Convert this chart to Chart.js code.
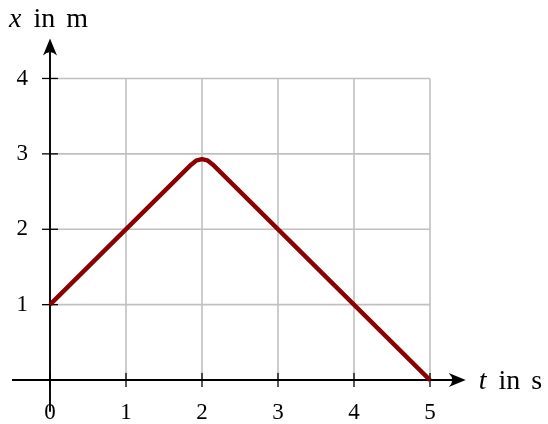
<!DOCTYPE html>
<html lang="en">
<head>
    <meta charset="UTF-8">
    <title>Position over time</title>
    <script src="https://cdn.jsdelivr.net/npm/chart.js"></script>
<style>
    body {
        margin: 0;
        background-color: #ffffff;
    }
    #wrap {
        width: 548px;
        height: 424px;
    }
</style>
</head>
<body>
    <div id="wrap"><canvas id="posChart"></canvas></div>

    <script>
        // data (t in s, x in m)
        const tValues = [0, 1.86, 1.93, 2, 2.07, 2.14, 5];
        const xValues = [1, 2.86, 2.915, 2.93, 2.915, 2.86, 0];
        const tTicks = [0, 1, 2, 3, 4, 5];
        const xTicks = [1, 2, 3, 4];
        const tTitle = ['t', 'in', 's'];
        const xTitle = ['x', 'in', 'm'];

        const FONT = '"Liberation Serif", serif';

        // writes "var in unit" with the variable in italics, words spread like LaTeX
        function drawTitle(ctx, words, x, y, gaps) {
            ctx.font = 'italic 28px ' + FONT;
            ctx.fillText(words[0], x, y);
            x += ctx.measureText(words[0]).width + gaps[0];
            ctx.font = '28px ' + FONT;
            ctx.fillText(words[1], x, y);
            x += ctx.measureText(words[1]).width + gaps[1];
            ctx.fillText(words[2], x, y);
        }

        // grid, axes with arrows, ticks and labels, drawn through the scales
        const axesPlugin = {
            id: 'axesPlugin',
            beforeDatasetsDraw(chart) {
                const ctx = chart.ctx;
                const sx = chart.scales.x, sy = chart.scales.y;
                const x0 = sx.getPixelForValue(0), x5 = sx.getPixelForValue(5);
                const y0 = sy.getPixelForValue(0), y4 = sy.getPixelForValue(4);
                ctx.save();
                ctx.strokeStyle = '#c0c0c0';
                ctx.lineWidth = 1.6;
                tTicks.forEach(v => {
                    if (v === 0) return;
                    const px = sx.getPixelForValue(v);
                    ctx.beginPath(); ctx.moveTo(px, y0); ctx.lineTo(px, y4); ctx.stroke();
                });
                xTicks.forEach(v => {
                    const py = sy.getPixelForValue(v);
                    ctx.beginPath(); ctx.moveTo(x0, py); ctx.lineTo(x5, py); ctx.stroke();
                });

                // axis lines
                ctx.strokeStyle = '#000';
                ctx.fillStyle = '#000';
                ctx.lineWidth = 1.9;
                const left = sx.getPixelForValue(-0.5), right = sx.getPixelForValue(5.47);
                const bottom = sy.getPixelForValue(-0.42), top = sy.getPixelForValue(4.53);
                ctx.beginPath(); ctx.moveTo(left, y0); ctx.lineTo(right - 8, y0); ctx.stroke();
                ctx.beginPath(); ctx.moveTo(x0, bottom); ctx.lineTo(x0, top + 8); ctx.stroke();
                // arrow heads
                ctx.beginPath();
                ctx.moveTo(right, y0);
                ctx.lineTo(right - 17, y0 - 7);
                ctx.quadraticCurveTo(right - 10, y0, right - 17, y0 + 7);
                ctx.closePath(); ctx.fill();
                ctx.beginPath();
                ctx.moveTo(x0, top);
                ctx.lineTo(x0 - 7, top + 17);
                ctx.quadraticCurveTo(x0, top + 10, x0 + 7, top + 17);
                ctx.closePath(); ctx.fill();

                // tick marks
                ctx.lineWidth = 1.3;
                tTicks.forEach(v => {
                    const px = sx.getPixelForValue(v);
                    ctx.beginPath(); ctx.moveTo(px, y0 - 7); ctx.lineTo(px, y0 + 7); ctx.stroke();
                });
                xTicks.forEach(v => {
                    const py = sy.getPixelForValue(v);
                    ctx.beginPath(); ctx.moveTo(x0 - 8, py); ctx.lineTo(x0 + 8, py); ctx.stroke();
                });

                // tick labels
                ctx.font = '23px ' + FONT;
                ctx.textAlign = 'center';
                ctx.textBaseline = 'middle';
                tTicks.forEach(v => {
                    ctx.fillText(String(v), sx.getPixelForValue(v), y0 + 33);
                });
                ctx.textAlign = 'right';
                xTicks.forEach(v => {
                    ctx.fillText(String(v), x0 - 22, sy.getPixelForValue(v));
                });

                // axis titles
                ctx.textAlign = 'left';
                ctx.textBaseline = 'alphabetic';
                drawTitle(ctx, tTitle, right + 13, y0 + 9, [12, 11]);
                drawTitle(ctx, xTitle, 9, 27, [12, 11]);
                ctx.restore();
            }
        };

        const points = tValues.map((t, i) => ({ x: t, y: xValues[i] }));

        const ctx = document.getElementById('posChart').getContext('2d');
        new Chart(ctx, {
            type: 'scatter',
            data: {
                datasets: [{
                    data: points,
                    showLine: true,
                    borderColor: '#8b0000',
                    borderWidth: 4.4,
                    borderJoinStyle: 'round',
                    pointRadius: 0,
                    tension: 0
                }]
            },
            options: {
                responsive: true,
                maintainAspectRatio: false,
                animation: false,
                layout: { padding: { left: 12, right: 80, top: 37, bottom: 10 } },
                plugins: { legend: { display: false }, tooltip: { enabled: false } },
                scales: {
                    x: { type: 'linear', min: -0.5, max: 5.5, display: false },
                    y: { type: 'linear', min: -0.45, max: 4.55, display: false }
                }
            },
            plugins: [axesPlugin]
        });
    </script>
</body>
</html>
